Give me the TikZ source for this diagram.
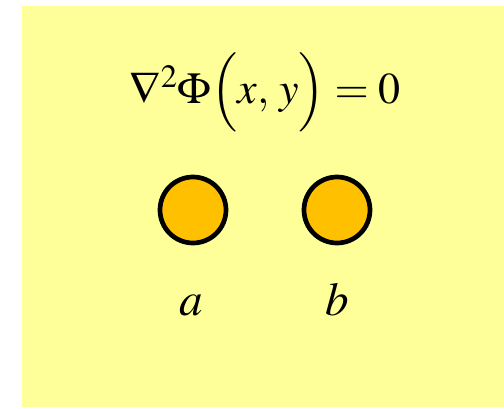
\documentclass[tikz,border=0pt]{standalone}
\usepackage{mathptmx}
\usepackage{fontspec}
\setmainfont{Liberation Serif}
\usetikzlibrary{positioning}
\definecolor{padyellow}{HTML}{FFFF99}
\definecolor{discgold}{HTML}{FFC000}

\begin{document}
\begin{tikzpicture}[
    x=1pt, y=-1pt,
    bigtext/.style={font=\fontsize{47}{56}\selectfont, inner sep=0pt},
    disc/.style={circle, draw=black, line width=4.7pt, fill=discgold, minimum size=66pt, inner sep=0pt},
    tag/.style={bigtext, anchor=base},
]
    \useasboundingbox (0,0) rectangle (504,408);

    % =====================================================================
    % BACKGROUND
    % =====================================================================
    \fill[padyellow] (22,6) rectangle (504,407);

    % =====================================================================
    % EQUATION
    % =====================================================================
    \node[bigtext, anchor=base, font=\fontsize{44}{52}\selectfont] (eqn) at (265,103) {$\nabla^2\Phi\Bigl(x,\,y\Bigr)=0$};

    % =====================================================================
    % DISCS AND LABELS
    % =====================================================================
    \node[disc] (disc_a) at (193,210) {};
    \node[disc] (disc_b) at (337,210) {};

    \node[tag] (lab_a) at (191,315) {$a$};
    \node[tag] (lab_b) at (337,315) {$b$};

\end{tikzpicture}
\end{document}
